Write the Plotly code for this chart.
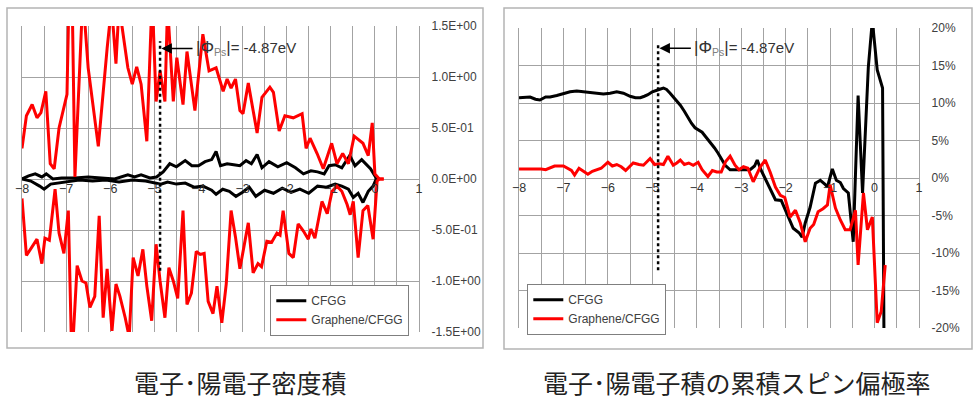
import plotly.graph_objects as go

# ---------------- data: electron-positron density product ----------------
dens_red_pos_x = [-8.0, -7.9, -7.77, -7.66, -7.57, -7.46, -7.36, -7.27, -7.16, -6.98, -6.93, -6.86,
                  -6.8, -6.62, -6.5, -6.27, -6.07, -5.97, -5.87, -5.8, -5.6, -5.5, -5.4, -5.3, -5.17,
                  -5.05, -4.96, -4.87, -4.76, -4.7, -4.57, -4.49, -4.35, -4.26, -4.08, -3.9, -3.76,
                  -3.6, -3.44, -3.35, -3.26, -3.16, -3.06, -2.99, -2.87, -2.67, -2.56, -2.38, -2.3,
                  -2.17, -2.04, -1.85, -1.65, -1.56, -1.47, -1.31, -1.17, -0.98, -0.86, -0.73, -0.6,
                  -0.47, -0.27, -0.15, -0.06, 0.0, 0.1, 0.2]
dens_red_pos_y = [0.30, 0.62, 0.73, 0.60, 0.65, 0.86, 0.15, 0.10, 0.50, 0.83, 1.90, 1.70,
                  0.02, 1.80, 1.09, 0.32, 1.28, 1.70, 1.13, 1.70, 1.09, 0.93, 1.10, 0.93, 0.37,
                  1.80, 0.76, 1.06, 0.76, 1.70, 0.76, 1.19, 0.73, 1.25, 0.67, 1.42, 1.06,
                  1.09, 0.86, 0.98, 0.89, 0.98, 0.67, 0.64, 0.94, 0.45, 0.80, 0.90, 0.85,
                  0.47, 0.62, 0.60, 0.64, 0.30, 0.40, 0.25, 0.10, 0.35, 0.15, 0.25, 0.15,
                  0.42, 0.35, 0.23, 0.55, 0.05, 0.0, 0.0]

dens_red_neg_x = [-8.0, -7.9, -7.66, -7.55, -7.48, -7.38, -7.25, -7.16, -7.05, -6.95, -6.87, -6.75,
                  -6.64, -6.55, -6.46, -6.35, -6.25, -6.16, -6.07, -5.96, -5.87, -5.78, -5.66, -5.57,
                  -5.48, -5.37, -5.26, -5.17, -5.06, -4.96, -4.87, -4.76, -4.67, -4.57, -4.47, -4.35,
                  -4.26, -4.16, -4.05, -3.96, -3.87, -3.78, -3.67, -3.58, -3.47, -3.37, -3.26, -3.16,
                  -3.06, -2.96, -2.87, -2.76, -2.65, -2.57, -2.45, -2.34, -2.22, -2.15, -2.08, -1.95,
                  -1.85, -1.74, -1.62, -1.51, -1.45, -1.36, -1.2, -1.08, -0.97, -0.86, -0.75, -0.63,
                  -0.56, -0.49, -0.38, -0.27, -0.16, -0.04, 0.05, 0.1, 0.2]
dens_red_neg_y = [-0.19, -0.75, -0.59, -0.83, -0.58, -0.60, -0.10, -0.53, -0.73, -0.31, -1.80, -0.85,
                  -1.00, -1.02, -1.26, -1.15, -0.36, -1.36, -0.88, -1.49, -1.03, -1.15, -1.36, -1.55,
                  -0.77, -0.95, -0.69, -1.05, -1.39, -0.64, -1.00, -1.36, -0.87, -1.00, -1.17, -0.31,
                  -1.23, -1.12, -0.71, -0.74, -0.73, -1.20, -1.32, -1.05, -1.41, -1.03, -0.31, -0.57,
                  -0.88, -0.64, -0.43, -0.92, -0.83, -0.86, -0.61, -0.62, -0.53, -0.55, -0.31, -0.73,
                  -0.77, -0.44, -0.51, -0.59, -0.49, -0.58, -0.22, -0.34, -0.12, -0.07, -0.12, -0.25,
                  -0.35, -0.22, -0.77, -0.31, -0.26, -0.59, -0.02, 0.0, 0.0]

dens_blk_pos_x = [-8.0, -7.85, -7.7, -7.55, -7.45, -7.3, -7.1, -6.8, -6.5, -6.2, -5.9, -5.6, -5.45,
                  -5.3, -5.1, -4.95, -4.8, -4.65, -4.5, -4.3, -4.15, -4.0, -3.85, -3.7, -3.6, -3.5,
                  -3.35, -3.2, -3.06, -2.92, -2.8, -2.67, -2.56, -2.4, -2.2, -2.0, -1.8, -1.62,
                  -1.45, -1.3, -1.15, -1.04, -0.9, -0.75, -0.57, -0.45, -0.3, -0.1, 0.03, 0.1]
dens_blk_pos_y = [0.0, 0.03, 0.05, 0.02, 0.05, 0.0, 0.01, 0.01, 0.02, 0.01, 0.0, 0.04, 0.02,
                  0.04, 0.01, 0.02, 0.07, 0.15, 0.12, 0.18, 0.13, 0.13, 0.17, 0.19, 0.27, 0.13,
                  0.15, 0.14, 0.13, 0.18, 0.15, 0.24, 0.11, 0.17, 0.12, 0.16, 0.11, 0.05,
                  0.08, 0.07, 0.05, 0.13, 0.14, 0.11, 0.23, 0.13, 0.19, 0.10, 0.01, 0.0]

dens_blk_neg_x = [-8.0, -7.8, -7.6, -7.5, -7.35, -7.2, -7.0, -6.7, -6.4, -6.1, -5.8, -5.5, -5.2,
                  -5.0, -4.85, -4.7, -4.5, -4.3, -4.1, -3.9, -3.7, -3.6, -3.45, -3.3, -3.15, -3.0,
                  -2.85, -2.7, -2.5, -2.3, -2.1, -1.9, -1.7, -1.5, -1.3, -1.1, -0.9, -0.75, -0.6,
                  -0.49, -0.38, -0.27, -0.15, -0.04, 0.03, 0.1]
dens_blk_neg_y = [0.0, -0.02, -0.07, -0.10, -0.05, -0.04, -0.03, -0.01, -0.02, -0.01, -0.03, -0.01, -0.02,
                  -0.04, -0.05, -0.03, -0.05, -0.04, -0.08, -0.07, -0.11, -0.15, -0.10, -0.12, -0.17, -0.13,
                  -0.08, -0.17, -0.11, -0.14, -0.09, -0.13, -0.10, -0.14, -0.07, -0.08, -0.05, -0.07, -0.10,
                  -0.18, -0.14, -0.23, -0.12, -0.07, 0.0, 0.0]

dens_tick_vals = [1.5, 1.0, 0.5, 0.0, -0.5, -1.0, -1.5]
dens_tick_text = ["1.5E+00", "1.0E+00", "5.0E-01", "0.0E+00", "-5.0E-01", "-1.0E+00", "-1.5E+00"]

# ---------------- data: cumulative spin polarization (%) ----------------
pol_blk_x = [-8.0, -7.87, -7.75, -7.63, -7.53, -7.4, -7.3, -7.15, -7.0, -6.85, -6.7, -6.55, -6.4,
             -6.25, -6.1, -5.95, -5.8, -5.65, -5.5, -5.38, -5.27, -5.18, -5.1, -5.0, -4.93, -4.85,
             -4.75, -4.68, -4.6, -4.5, -4.37, -4.28, -4.2, -4.12, -4.04, -3.95, -3.88, -3.8, -3.7,
             -3.6, -3.52, -3.44, -3.36, -3.25, -3.1, -2.95, -2.8, -2.7, -2.64, -2.55, -2.41, -2.3,
             -2.23, -2.1, -1.94, -1.83, -1.7, -1.63, -1.56, -1.45, -1.33, -1.22, -1.12, -1.06,
             -0.95, -0.86, -0.77, -0.7, -0.59, -0.48, -0.37, -0.27, -0.14, -0.05, 0.06, 0.18, 0.22]
pol_blk_y = [10.7, 10.8, 10.8, 10.5, 10.4, 10.8, 10.8, 11.0, 11.3, 11.5, 11.6, 11.5, 11.3,
             11.2, 11.2, 11.3, 11.5, 11.3, 10.9, 10.7, 10.7, 10.9, 11.1, 11.5, 11.6, 11.8,
             12.0, 11.8, 11.3, 10.6, 9.7, 8.9, 8.1, 7.3, 6.7, 6.4, 6.1, 5.5, 4.8,
             4.0, 3.3, 2.5, 1.7, 1.1, 1.1, 1.2, 1.1, 1.6, 2.4, 1.0, -0.7, -2.0,
             -2.9, -3.0, -5.3, -6.7, -7.3, -7.9, -6.0, -3.9, -0.7, -0.3, -0.8, -1.2,
             1.2, -0.3, -0.6, -1.4, -2.0, -8.5, 11.0, -2.0, 14.8, 21.0, 14.4, 12.0, -30.0]

pol_red_x = [-8.0, -7.9, -7.75, -7.6, -7.5, -7.4, -7.3, -7.2, -7.0, -6.9, -6.82, -6.75, -6.65,
             -6.55, -6.45, -6.35, -6.25, -6.15, -6.0, -5.9, -5.8, -5.7, -5.6, -5.5, -5.43, -5.3,
             -5.2, -5.05, -4.95, -4.85, -4.75, -4.65, -4.53, -4.45, -4.37, -4.28, -4.18, -4.08,
             -3.97, -3.88, -3.75, -3.65, -3.55, -3.45, -3.35, -3.25, -3.14, -3.05, -2.95, -2.85,
             -2.73, -2.57, -2.46, -2.35, -2.23, -2.12, -2.02, -1.9, -1.78, -1.67, -1.56, -1.45,
             -1.37, -1.27, -1.16, -1.06, -1.0, -0.88, -0.77, -0.66, -0.55, -0.43, -0.37, -0.25,
             -0.16, -0.05, 0.06, 0.15, 0.24]
pol_red_y = [1.2, 1.2, 1.2, 1.3, 1.2, 1.1, 1.3, 1.6, 1.6, 1.2, 1.0, 0.4, 1.3,
             0.9, 0.5, 0.9, 1.1, 1.3, 2.1, 1.6, 1.8, 1.5, 1.0, 1.6, 2.0, 1.8,
             1.7, 2.6, 1.8, 1.9, 1.8, 2.9, 1.7, 2.0, 2.4, 1.8, 2.0, 1.7,
             2.1, 1.1, 0.2, 1.0, 0.8, 0.8, 2.2, 2.9, 1.7, 1.1, 1.5, 1.3,
             -0.5, 1.5, 2.4, 0.8, -1.2, -2.3, -2.6, -5.2, -4.3, -6.0, -8.5, -6.7,
             -6.2, -4.5, -4.1, -3.6, -0.9, -4.0, -5.6, -6.9, -6.9, -4.3, -11.6, -2.0,
             -6.9, -5.2, -19.3, -17.8, -11.6]

pol_tick_vals = [20, 15, 10, 5, 0, -5, -10, -15, -20]
pol_tick_text = ["20%", "15%", "10%", "5%", "0%", "-5%", "-10%", "-15%", "-20%"]

x_tick_vals = [-8, -7, -6, -5, -4, -3, -2, -1, 0, 1]
series_names = ["CFGG", "Graphene/CFGG"]
phi_ps = -4.87
panel_titles = ["電子･陽電子密度積", "電子･陽電子積の累積スピン偏極率"]

# ---------------- styling ----------------
W, H = 973, 400
GRID = "#a3a3a3"
SANS = "Liberation Sans, Arial, sans-serif"
TICK_FONT = dict(family=SANS, size=12, color="#404040")
XTICK_FONT = dict(family=SANS, size=12.5, color="#333333")
BLACK = "#000000"
RED = "#ff0000"


def px_x(p):
    return p / W


def px_y(p):
    return 1 - p / H


fig = go.Figure()

# left panel traces
fig.add_trace(go.Scatter(x=dens_blk_pos_x, y=dens_blk_pos_y, mode="lines", name=series_names[0],
                         line=dict(color=BLACK, width=3), xaxis="x", yaxis="y", legend="legend"))
fig.add_trace(go.Scatter(x=dens_blk_neg_x, y=dens_blk_neg_y, mode="lines", name=series_names[0],
                         line=dict(color=BLACK, width=3), xaxis="x", yaxis="y", showlegend=False))
fig.add_trace(go.Scatter(x=dens_red_pos_x, y=dens_red_pos_y, mode="lines", name=series_names[1],
                         line=dict(color=RED, width=3), xaxis="x", yaxis="y", legend="legend"))
fig.add_trace(go.Scatter(x=dens_red_neg_x, y=dens_red_neg_y, mode="lines", name=series_names[1],
                         line=dict(color=RED, width=3), xaxis="x", yaxis="y", showlegend=False))

# right panel traces
fig.add_trace(go.Scatter(x=pol_blk_x, y=pol_blk_y, mode="lines", name=series_names[0],
                         line=dict(color=BLACK, width=3), xaxis="x2", yaxis="y2", legend="legend2"))
fig.add_trace(go.Scatter(x=pol_red_x, y=pol_red_y, mode="lines", name=series_names[1],
                         line=dict(color=RED, width=3), xaxis="x2", yaxis="y2", legend="legend2"))

left_dom_x = [px_x(22), px_x(419)]
left_dom_y = [px_y(332), px_y(26)]
right_dom_x = [px_x(519), px_x(919)]
right_dom_y = [px_y(328), px_y(28)]

xaxis_common = dict(
    range=[-8, 1], tickvals=x_tick_vals, showgrid=True, gridcolor=GRID, gridwidth=1.3,
    minor=dict(dtick=0.5, showgrid=True, gridcolor=GRID, gridwidth=1.3),
    zeroline=False, showline=False, ticks="", tickfont=XTICK_FONT, anchor="free",
    ticklabelstandoff=0, automargin=False,
)
yaxis_common = dict(
    showgrid=True, gridcolor=GRID, gridwidth=1.3, zeroline=False, side="right",
    showline=True, linecolor=GRID, linewidth=1.3, mirror=True, ticks="",
    tickfont=TICK_FONT, ticklabelstandoff=9, automargin=False,
)
legend_common = dict(
    xanchor="left", yanchor="top", bgcolor="white", bordercolor="#7f7f7f", borderwidth=1.3,
    itemwidth=30, tracegroupgap=0, font=dict(family=SANS, size=12, color="#404040"),
)

fig.update_layout(
    width=W, height=H, margin=dict(l=0, r=0, t=0, b=0, autoexpand=False),
    paper_bgcolor="white", plot_bgcolor="white",
    xaxis=dict(domain=left_dom_x, position=(left_dom_y[0] + left_dom_y[1]) / 2, **xaxis_common),
    yaxis=dict(domain=left_dom_y, anchor="x", range=[-1.5, 1.5], tickvals=dens_tick_vals,
               ticktext=dens_tick_text, **yaxis_common),
    xaxis2=dict(domain=right_dom_x, position=(right_dom_y[0] + right_dom_y[1]) / 2, **xaxis_common),
    yaxis2=dict(domain=right_dom_y, anchor="x2", range=[-20, 20], tickvals=pol_tick_vals,
                ticktext=pol_tick_text, **yaxis_common),
    legend=dict(x=px_x(270), y=px_y(285), **legend_common),
    legend2=dict(x=px_x(527), y=px_y(284), **legend_common),
    showlegend=True,
)

# panel frames
fig.add_shape(type="rect", xref="paper", yref="paper", x0=px_x(7), x1=px_x(483),
              y0=px_y(348), y1=px_y(8), line=dict(color="#b4b4b4", width=1.5), layer="below")
fig.add_shape(type="rect", xref="paper", yref="paper", x0=px_x(504), x1=px_x(972),
              y0=px_y(349), y1=px_y(8), line=dict(color="#b4b4b4", width=1.5), layer="below")

# work function markers: dotted line, arrow and label
label = ("<span style='font-size:17px'>|Φ</span><sub><span style='color:#808080'>Ps</span></sub>"
         "<span style='font-size:17px'>|</span>= %.2feV" % phi_ps)
for xr, yr, y_top, y_bot, y_arrow in [("x", "y", 1.35, -0.9, 1.28), ("x2", "y2", 18.0, -12.3, 17.3)]:
    fig.add_shape(type="line", xref=xr, yref=yr, x0=phi_ps, x1=phi_ps, y0=y_bot, y1=y_top,
                  line=dict(color=BLACK, width=2.5, dash="dot"))
    fig.add_annotation(xref=xr, yref=yr, x=phi_ps + 0.03, y=y_arrow, axref=xr, ayref=yr,
                       ax=-4.1, ay=y_arrow, text="", showarrow=True, arrowhead=2,
                       arrowsize=1.4, arrowwidth=1.5, arrowcolor=BLACK)
    fig.add_annotation(xref=xr, yref=yr, x=-4.1, y=y_arrow, text=label, showarrow=False,
                       xanchor="left", yanchor="middle",
                       font=dict(family=SANS, size=15, color="#333333"))

# panel captions
for cx, text in [(240, panel_titles[0]), (737, panel_titles[1])]:
    fig.add_annotation(xref="paper", yref="paper", x=px_x(cx), y=px_y(382), text=text,
                       showarrow=False, xanchor="center", yanchor="middle",
                       font=dict(family="Noto Sans CJK JP", size=25, color="#222222"))

fig.write_html("out.html")
